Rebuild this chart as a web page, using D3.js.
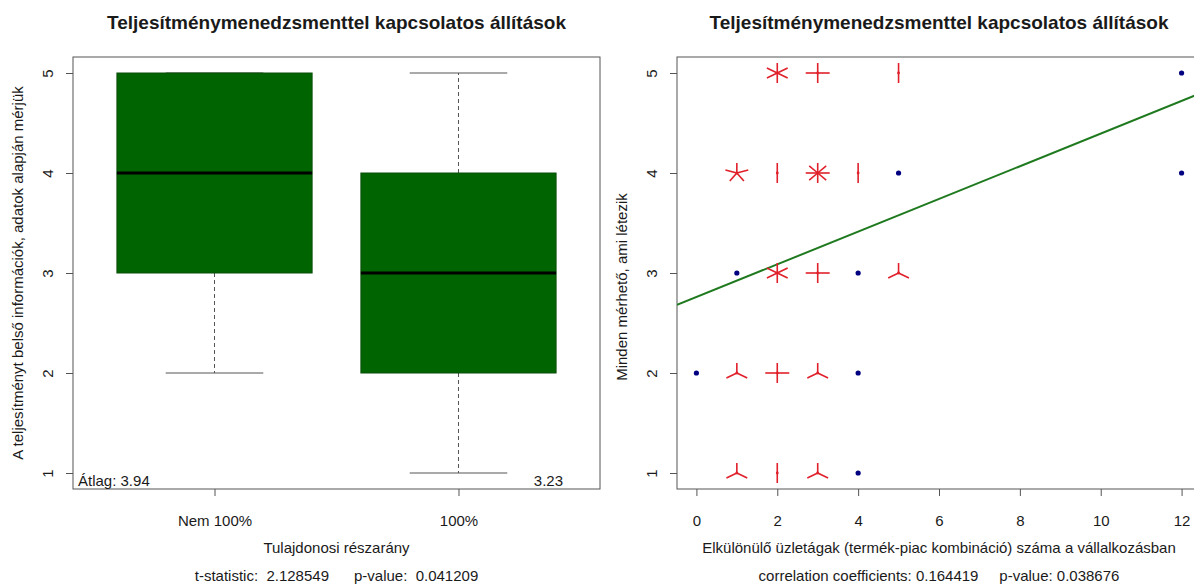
<!DOCTYPE html>
<html><head><meta charset="utf-8">
<script src="https://cdnjs.cloudflare.com/ajax/libs/d3/7.8.5/d3.min.js"></script>
<style>
html,body{margin:0;padding:0;background:#fff;}
svg text{font-family:"Liberation Sans",Arial,Helvetica,sans-serif;fill:#1a1a1a;}
</style></head>
<body><svg id="c" width="1194" height="584"></svg>
<script>
// ---- data ----
const title = "Teljesítménymenedzsmenttel kapcsolatos állítások";
const boxCategories = ["Nem 100%", "100%"];
const boxLow    = [2, 1];
const boxQ1     = [3, 2];
const boxMedian = [4, 3];
const boxQ3     = [5, 4];
const boxHigh   = [5, 5];
const boxMeans  = [3.94, 3.23];
const yTicks = [1, 2, 3, 4, 5];
const leftYLabel = "A teljesítményt belső információk, adatok alapján mérjük";
const leftXLabel = "Tulajdonosi részarány";
const leftSub = "t-statistic:  2.128549      p-value:  0.041209";

const scatterX     = [12, 2, 3, 5,  1, 2, 3, 4, 5, 12,  1, 2, 3, 4, 5,  0, 1, 2, 3, 4,  1, 2, 3, 4];
const scatterY     = [ 5, 5, 5, 5,  4, 4, 4, 4, 4,  4,  3, 3, 3, 3, 3,  2, 2, 2, 2, 2,  1, 1, 1, 1];
const scatterCount = [ 1, 6, 4, 2,  5, 2, 8, 2, 1,  1,  1, 6, 4, 1, 3,  1, 3, 4, 3, 1,  3, 2, 3, 1];
const xTicksRight = [0, 2, 4, 6, 8, 10, 12];
const regIntercept = 2.76;
const regSlope = 0.1634;
const rightYLabel = "Minden mérhető, ami létezik";
const rightXLabel = "Elkülönülő üzletágak (termék-piac kombináció) száma a vállalkozásban";
const rightSub = "correlation coefficients: 0.164419     p-value: 0.038676";

// ---- layout ----
const svg = d3.select("#c");
const frameCol = "#555";
const fs = 15, titleFs = 19;
const pTop = 57, pBottom = 489;
const y = d3.scaleLinear().domain([0.84, 5.16]).range([pBottom, pTop]);

function yAxis(g, x0) {
  const ax = d3.axisLeft(y).tickValues(yTicks).tickSize(7).tickPadding(6).tickFormat(d3.format("d"));
  const a = g.append("g").attr("transform", `translate(${x0},0)`).call(ax);
  a.select(".domain").remove();
  a.selectAll(".tick line").attr("stroke", frameCol);
  a.selectAll(".tick text").attr("font-size", fs).attr("text-anchor", "middle")
    .attr("x", null).attr("dy", null)
    .attr("transform", "translate(-26,0) rotate(-90)")
    .attr("dominant-baseline", "central");
}
function xAxisStyle(g) {
  g.select(".domain").remove();
  g.selectAll(".tick line").attr("stroke", frameCol);
  g.selectAll(".tick text").attr("font-size", fs);
}

// ===== Left: boxplot =====
const gl = svg.append("g");
const xL = d3.scaleLinear().domain([0.42, 2.58]).range([73, 600]);
const bw = 0.8, sw = 0.4;
boxCategories.forEach((c, i) => {
  const xc = i + 1;
  gl.append("line").attr("x1", xL(xc)).attr("x2", xL(xc)).attr("y1", y(boxQ3[i])).attr("y2", y(boxHigh[i]))
    .attr("stroke", frameCol).attr("stroke-dasharray", "4,3");
  gl.append("line").attr("x1", xL(xc)).attr("x2", xL(xc)).attr("y1", y(boxQ1[i])).attr("y2", y(boxLow[i]))
    .attr("stroke", frameCol).attr("stroke-dasharray", "4,3");
  [boxHigh[i], boxLow[i]].forEach(v => {
    gl.append("line").attr("x1", xL(xc - sw / 2)).attr("x2", xL(xc + sw / 2)).attr("y1", y(v)).attr("y2", y(v))
      .attr("stroke", frameCol);
  });
  gl.append("rect").attr("x", xL(xc - bw / 2)).attr("width", xL(xc + bw / 2) - xL(xc - bw / 2))
    .attr("y", y(boxQ3[i])).attr("height", y(boxQ1[i]) - y(boxQ3[i]))
    .attr("fill", "#006400").attr("stroke", "#0b4f0b");
  gl.append("line").attr("x1", xL(xc - bw / 2)).attr("x2", xL(xc + bw / 2)).attr("y1", y(boxMedian[i])).attr("y2", y(boxMedian[i]))
    .attr("stroke", "#000").attr("stroke-width", 3);
});
gl.append("rect").attr("x", 73).attr("y", pTop).attr("width", 600 - 73).attr("height", pBottom - pTop)
  .attr("fill", "none").attr("stroke", frameCol);
yAxis(gl, 73);
const axb = d3.axisBottom(xL).tickValues([1, 2]).tickSize(7).tickPadding(19).tickFormat((d) => boxCategories[d - 1]);
gl.append("g").attr("transform", `translate(0,${pBottom})`).call(axb).call(xAxisStyle);
gl.append("text").attr("x", 78).attr("y", 486).attr("font-size", fs).text("Átlag: " + boxMeans[0].toFixed(2));
gl.append("text").attr("x", 563).attr("y", 486).attr("font-size", fs).attr("text-anchor", "end").text(boxMeans[1].toFixed(2));
gl.append("text").attr("x", 336.5).attr("y", 29).attr("font-size", titleFs).attr("font-weight", "bold").attr("text-anchor", "middle").text(title);
gl.append("text").attr("x", 336.5).attr("y", 553).attr("font-size", fs).attr("text-anchor", "middle").text(leftXLabel);
gl.append("text").attr("x", 336.5).attr("y", 581).attr("font-size", fs).attr("text-anchor", "middle").attr("xml:space", "preserve").text(leftSub);
gl.append("text").attr("transform", `translate(23,${(pTop + pBottom) / 2}) rotate(-90)`).attr("font-size", fs)
  .attr("text-anchor", "middle").text(leftYLabel);

// ===== Right: sunflower scatter =====
const gr = svg.append("g");
const xR = d3.scaleLinear().domain([-0.48, 12.48]).range([677, 1201]);
svg.append("defs").append("clipPath").attr("id", "clipR").append("rect")
  .attr("x", 677).attr("y", pTop).attr("width", 1201 - 677).attr("height", pBottom - pTop);
gr.append("rect").attr("x", 677).attr("y", pTop).attr("width", 1201 - 677).attr("height", pBottom - pTop)
  .attr("fill", "none").attr("stroke", frameCol);
yAxis(gr, 677);
const axr = d3.axisBottom(xR).tickValues(xTicksRight).tickSize(7).tickPadding(19);
gr.append("g").attr("transform", `translate(0,${pBottom})`).call(axr).call(xAxisStyle);

const dom = xR.domain();
gr.append("line").attr("clip-path", "url(#clipR)")
  .attr("x1", xR(dom[0])).attr("y1", y(regIntercept + regSlope * dom[0]))
  .attr("x2", xR(dom[1])).attr("y2", y(regIntercept + regSlope * dom[1]))
  .attr("stroke", "#1f7a1f").attr("stroke-width", 2);

const petalX = 12, petalY = 10;
scatterX.forEach((xv, i) => {
  const n = scatterCount[i];
  const px = xR(xv), py = y(scatterY[i]);
  if (n === 1) {
    gr.append("circle").attr("cx", px).attr("cy", py).attr("r", 2.6).attr("fill", "#000080");
  } else {
    for (let k = 1; k <= n; k++) {
      const deg = 2 * Math.PI * k / n;
      gr.append("line").attr("x1", px).attr("y1", py)
        .attr("x2", px + petalX * Math.sin(deg)).attr("y2", py - petalY * Math.cos(deg))
        .attr("stroke", "#e0202a").attr("stroke-width", 1.6);
    }
    gr.append("circle").attr("cx", px).attr("cy", py).attr("r", 1.4).attr("fill", "#e0202a");
  }
});

gr.append("text").attr("x", 939).attr("y", 29).attr("font-size", titleFs).attr("font-weight", "bold").attr("text-anchor", "middle").text(title);
gr.append("text").attr("x", 939).attr("y", 553).attr("font-size", fs).attr("text-anchor", "middle").text(rightXLabel);
gr.append("text").attr("x", 939).attr("y", 581).attr("font-size", fs).attr("text-anchor", "middle").attr("xml:space", "preserve").text(rightSub);
gr.append("text").attr("transform", `translate(627,${(pTop + pBottom) / 2 + 14}) rotate(-90)`).attr("font-size", fs)
  .attr("text-anchor", "middle").text(rightYLabel);
</script></body></html>
